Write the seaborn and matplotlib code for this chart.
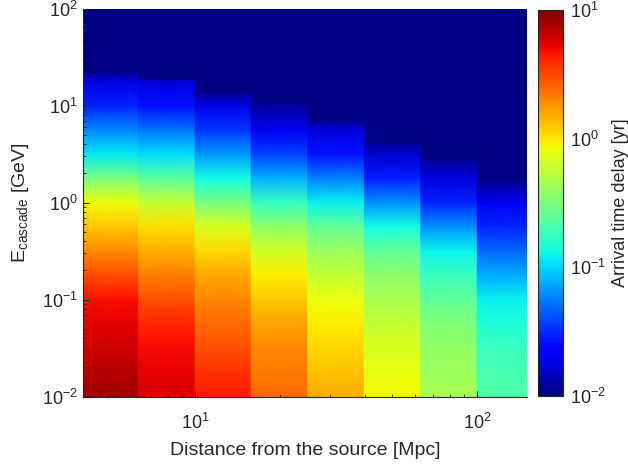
import numpy as np
import matplotlib
matplotlib.use("Agg")
import matplotlib.pyplot as plt
from matplotlib.colors import LogNorm
import seaborn as sns

# distance bins from the source [Mpc] (bin edges)
dist_edges = [3.98, 6.31, 10.0, 15.8, 25.1, 39.8, 63.1, 100.0, 158.0]

# cascade energies [GeV] at which the delay was read
energy = [0.01, 0.0178, 0.0316, 0.0562, 0.1, 0.178, 0.316, 0.562, 1.0,
          1.78, 3.16, 5.62, 10.0, 17.8]

# arrival time delay [yr], one list per distance bin, low -> high energy
delay_d1 = [8.1, 7.1, 6.2, 5.4, 4.7, 3.0, 1.95, 1.26, 0.81, 0.31, 0.116, 0.060,
            0.030, 0.018]
delay_d2 = [5.75, 5.4, 4.9, 4.1, 2.97, 2.1, 1.5, 1.04, 0.58, 0.24, 0.105, 0.052,
            0.026, 0.0168]
delay_d3 = [4.4, 3.7, 3.0, 2.5, 2.0, 1.58, 1.1, 0.69, 0.316, 0.133, 0.067, 0.034,
            0.019]
delay_d4 = [2.5, 2.2, 1.93, 1.6, 1.24, 0.95, 0.645, 0.376, 0.176, 0.079, 0.037,
            0.020]
delay_d5 = [1.55, 1.3, 1.11, 0.95, 0.80, 0.57, 0.41, 0.26, 0.12, 0.057, 0.027,
            0.0174]
delay_d6 = [0.86, 0.78, 0.68, 0.58, 0.46, 0.37, 0.25, 0.136, 0.064, 0.029, 0.016]
delay_d7 = [0.45, 0.42, 0.38, 0.33, 0.25, 0.18, 0.124, 0.063, 0.031, 0.018]
delay_d8 = [0.22, 0.20, 0.18, 0.147, 0.12, 0.077, 0.049, 0.031, 0.020]
delays = [delay_d1, delay_d2, delay_d3, delay_d4,
          delay_d5, delay_d6, delay_d7, delay_d8]

# highest cascade energy reached in each distance bin [GeV] and delay there [yr]
cutoff_energy = [21.6, 18.6, 13.5, 10.5, 6.9, 4.1, 2.8, 1.7]
cutoff_delay = [0.0115, 0.0115, 0.0115, 0.0115, 0.0115, 0.0115, 0.0115, 0.011]

sns.set_style("ticks")
plt.rcParams['font.family'] = ['Liberation Sans', 'DejaVu Sans']
plt.rcParams['mathtext.fontset'] = 'custom'
plt.rcParams['mathtext.rm'] = 'Liberation Sans'
dark = '#262626'
cmap = plt.get_cmap('jet')

fig = plt.figure(figsize=(6.28, 4.65), dpi=100)
ax = fig.add_axes([0.1317, 0.1473, 0.7073, 0.8344])
cax = fig.add_axes([0.857, 0.149, 0.040, 0.829])
ax.set_facecolor(cmap(0.0))

norm = LogNorm(vmin=0.01, vmax=10)
for i, d in enumerate(delays):
    e_col = energy[:len(d)] + [cutoff_energy[i]]
    d_col = d + [cutoff_delay[i]]
    X = np.array([[dist_edges[i], dist_edges[i + 1]]] * len(e_col))
    Y = np.column_stack([e_col, e_col])
    C = np.column_stack([d_col, d_col])
    mesh = ax.pcolormesh(X, Y, C, shading='gouraud', cmap=cmap, norm=norm)

ax.set_xscale('log')
ax.set_yscale('log')
ax.set_xlim(4, 150)
ax.set_ylim(0.01, 100)
ax.set_axisbelow(False)
sns.despine(ax=ax)
for s in ['left', 'bottom']:
    ax.spines[s].set_color(dark)
    ax.spines[s].set_linewidth(0.8)

ax.tick_params(which='both', direction='in', colors=dark, labelcolor=dark,
               labelsize=13)
ax.tick_params(which='major', length=4, width=0.8)
ax.tick_params(which='minor', length=2.5, width=0.6)
ax.tick_params(axis='x', which='both', pad=12)
ax.tick_params(axis='y', which='both', pad=3.5)

ax.set_xlabel('Distance from the source [Mpc]', fontsize=14, color=dark, labelpad=6)
ax.set_ylabel(r'E$_{\mathdefault{cascade}}$ [GeV]', fontsize=14, color=dark, labelpad=8)

cb = fig.colorbar(mesh, cax=cax)
cb.outline.set_edgecolor(dark)
cb.outline.set_linewidth(0.8)
cax.tick_params(which='both', direction='in', colors=dark, labelcolor=dark,
                labelsize=13, pad=5)
cax.tick_params(which='major', length=4, width=0.8)
cax.tick_params(which='minor', length=2.5, width=0.6)
cb.set_label('Arrival time delay [yr]', fontsize=13, color=dark, labelpad=4)

fig.savefig('out.png', dpi=100)
